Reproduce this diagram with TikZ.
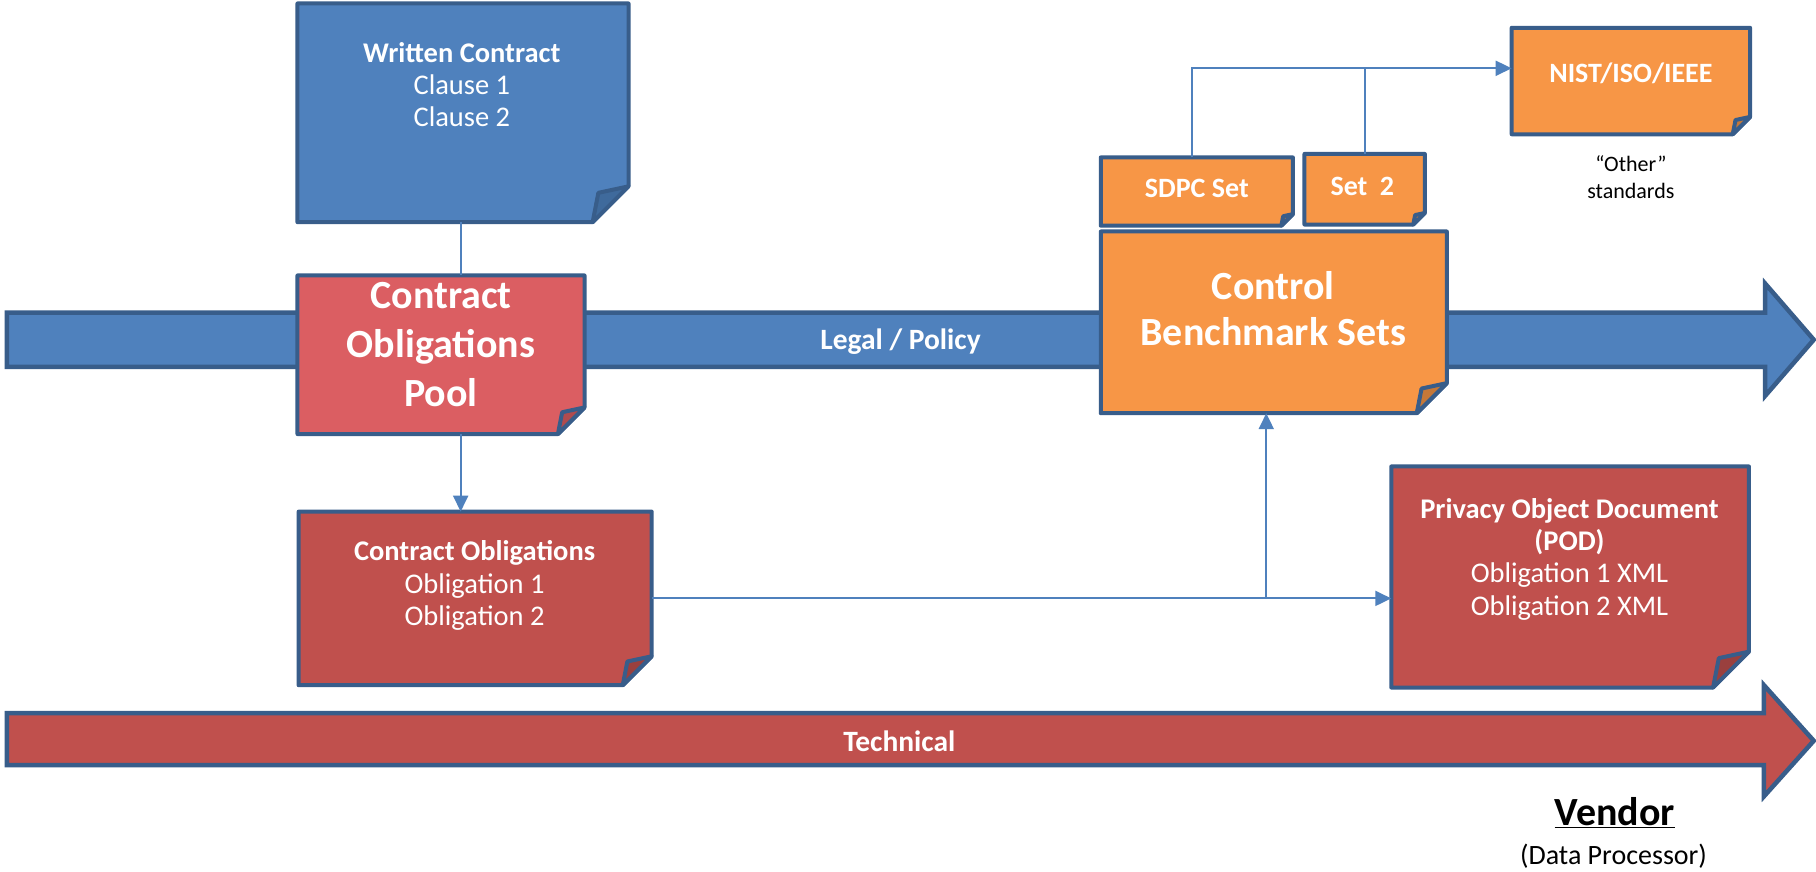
\documentclass[tikz,border=0pt]{standalone}
\usepackage{fontspec}
\setmainfont{Carlito}
\usetikzlibrary{arrows.meta,fit,calc}
\definecolor{bfill}{HTML}{4F81BD}
\definecolor{bdr}{HTML}{385D8A}
\definecolor{rfill}{HTML}{C0504D}
\definecolor{pfill}{HTML}{DB5E62}
\definecolor{ofill}{HTML}{F79646}
\definecolor{bfold}{HTML}{3F6A9C}
\definecolor{rfold}{HTML}{9A403E}
\definecolor{pfold}{HTML}{B04B4E}
\definecolor{ofold}{HTML}{C67838}
\tikzset{
  x=1.158pt, y=-1.158pt,
  area/.style={inner sep=0pt, outer sep=0pt, draw=none},
  wtext/.style={text=white, align=center, inner sep=0pt},
  smalltxt/.style={font=\fontsize{28.5}{32.4}\selectfont},
  conn/.style={draw=bfill, line width=2pt},
  tip/.style={-{Triangle[length=16pt,width=15pt]}},
  bigarrow/.style={draw=bdr, line width=4.5pt, line join=miter},
}
\newcommand\foldnote[4]{%
  \path[fill=#2, draw=bdr, line width=4pt, line join=round]
    (#1.north west) -- (#1.north east) -- ($(#1.south east)+(0,-#4)$)
    -- ($(#1.south east)+(-#4,0)$) -- (#1.south west) -- cycle;
  \path[fill=#3, draw=bdr, line width=4pt, line join=round]
    ($(#1.south east)+(-#4,0)$) -- ($(#1.south east)+(0,-#4)$)
    -- ($(#1.south east)+(-0.84*#4,-0.82*#4)$) -- cycle;
}
\begin{document}
\begin{tikzpicture}
\fill[white] (0,0) rectangle (1568.2,753);
% box areas
\node[area, fit={(257,3) (543,192)}] (wc) {};
\node[area, fit={(257,238) (505,375)}] (pool) {};
\node[area, fit={(258,442) (563,592)}] (co) {};
\node[area, fit={(1202,403) (1511,594)}] (pod) {};
\node[area, fit={(951,200) (1250,357)}] (cbs) {};
\node[area, fit={(951,136) (1117,195)}] (sdpc) {};
\node[area, fit={(1127,133) (1231,194)}] (set2) {};
\node[area, fit={(1306,24) (1512,116)}] (nist) {};
% big arrows
\path[fill=bfill, bigarrow] (6,270) -- (1525,270) -- (1525,245) -- (1567,293.5)
  -- (1525,342) -- (1525,317) -- (6,317) -- cycle;
\path[fill=rfill, bigarrow] (6,616) -- (1524,616) -- (1524,592) -- (1567,640)
  -- (1524,688) -- (1524,661) -- (6,661) -- cycle;
\node[wtext, font=\bfseries\fontsize{29.5}{32}\selectfont] (legal) at (778,295) {Legal / Policy};
\node[wtext, font=\bfseries\fontsize{29.5}{32}\selectfont] (tech) at (777,640) {Technical};
% notes
\foldnote{wc}{bfill}{bfold}{31}
\foldnote{pool}{pfill}{pfold}{23}
\foldnote{co}{rfill}{rfold}{25}
\foldnote{pod}{rfill}{rfold}{31}
\foldnote{cbs}{ofill}{ofold}{26}
\foldnote{sdpc}{ofill}{ofold}{10}
\foldnote{set2}{ofill}{ofold}{10}
\foldnote{nist}{ofill}{ofold}{15}
% texts
\node[wtext, smalltxt] (wct) at (399,73) {\textbf{Written Contract}\\Clause 1\\Clause 2};
\node[wtext, font=\bfseries\fontsize{40}{49}\selectfont] (poolt) at (381,298) {Contract\\Obligations\\Pool};
\node[wtext, smalltxt] (cot) at (410,506) {\textbf{Contract Obligations}\\Obligation 1\\Obligation 2};
\node[wtext, smalltxt] (podt) at (1356,483) {\textbf{Privacy Object Document}\\\textbf{(POD)}\\Obligation 1 XML\\Obligation 2 XML};
\node[wtext, font=\bfseries\fontsize{40}{46}\selectfont] (cbst) at (1100,267) {Control\\Benchmark Sets};
\node[wtext, font=\bfseries\fontsize{28}{32}\selectfont] (sdpct) at (1034,163) {SDPC Set};
\node[wtext, font=\bfseries\fontsize{28}{32}\selectfont] (set2t) at (1177,161) {Set\ \ 2};
\node[wtext, font=\bfseries\fontsize{28}{32}\selectfont] (nistt) at (1409,63) {NIST/ISO/IEEE};
\node[align=center, inner sep=0pt, font=\fontsize{22}{27}\selectfont] (other) at (1409,153) {“Other”\\standards};
\node[inner sep=0pt, font=\bfseries\fontsize{40}{44}\selectfont] (vendor) at (1395,702) {\underline{Vendor}};
\node[inner sep=0pt, font=\fontsize{28}{32}\selectfont] (dp) at (1394,740) {(Data Processor)};
% connectors
\coordinate (bend) at (1030,59);
\draw[conn] (398,0 |- wc.south) -- (398,0 |- pool.north);
\draw[conn, tip] (398,0 |- pool.south) -- (398,0 |- co.north);
\draw[conn, tip] (co.east) -- (co.east -| pod.west);
\draw[conn, tip] (1094,0 |- co.east) -- (1094,0 |- cbs.south);
\draw[conn, tip] (1030,0 |- sdpc.north) -- (bend) -- (bend -| nist.west);
\draw[conn] (set2.north) -- (set2.north |- bend);
\end{tikzpicture}
\end{document}
